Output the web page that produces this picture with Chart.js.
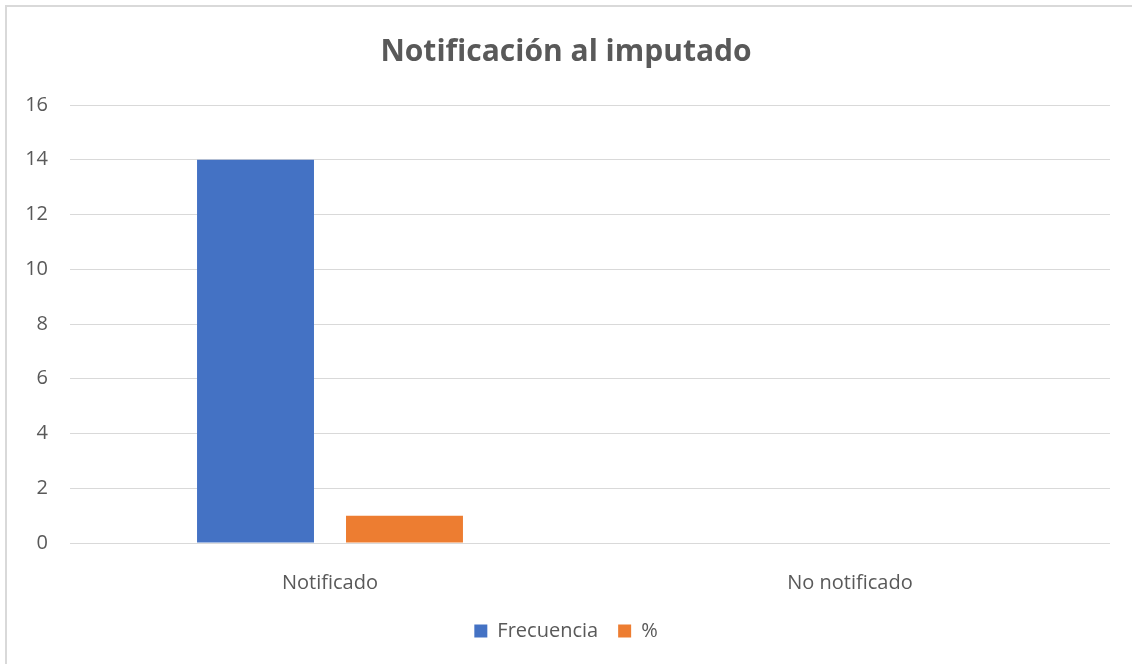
<!DOCTYPE html>
<html>
<head>
<meta charset="utf-8">
<script src="https://cdn.jsdelivr.net/npm/chart.js@4/dist/chart.umd.min.js"></script>
<style>
  html, body { margin: 0; padding: 0; background: #fff; overflow: hidden; }
  #wrap { position: relative; width: 1132px; height: 664px; }
  #frame { position: absolute; left: 5px; top: 5px; width: 1140px; height: 680px; border: 2px solid #d9d9d9; box-sizing: border-box; pointer-events: none; }
  canvas { position: absolute; left: 0; top: 0; }
</style>
</head>
<body>
<div id="wrap">
  <canvas id="c" width="1132" height="664"></canvas>
  <div id="frame"></div>
</div>
<script>
const titleText = "Notificación al imputado";
const categories = ["Notificado", "No notificado"];
const frecuencia = [14, 0];
const porcentaje = [1, 0];
const seriesNames = ["Frecuencia", "%"];

const textColor = "#595959";
const gridColor = "#d9d9d9";
const fontFamily = "'Open Sans', 'Liberation Sans', sans-serif";

new Chart(document.getElementById("c"), {
  type: "bar",
  data: {
    labels: categories,
    datasets: [
      { label: seriesNames[0], data: frecuencia, backgroundColor: "#4472C4", categoryPercentage: 0.573, barPercentage: 0.785 },
      { label: seriesNames[1], data: porcentaje, backgroundColor: "#ED7D31", categoryPercentage: 0.573, barPercentage: 0.785 }
    ]
  },
  options: {
    responsive: false,
    animation: false,
    devicePixelRatio: 1,
    layout: { padding: { left: 22, right: 22, top: 0, bottom: 13 } },
    plugins: {
      title: {
        display: true,
        text: titleText,
        color: textColor,
        font: { family: fontFamily, size: 30, weight: "bold" },
        padding: { top: 34, bottom: 35 }
      },
      legend: {
        display: true,
        position: "bottom",
        labels: {
          color: textColor,
          font: { family: fontFamily, size: 20 },
          boxWidth: 13,
          boxHeight: 13,
          padding: 20
        }
      },
      tooltip: { enabled: false }
    },
    scales: {
      x: {
        grid: { display: false },
        border: { display: false },
        ticks: { color: textColor, font: { family: fontFamily, size: 20 }, padding: 20 },
        afterFit: (s) => { s.height = 58; }
      },
      y: {
        min: 0,
        max: 16,
        ticks: { stepSize: 2, color: textColor, font: { family: fontFamily, size: 20 }, padding: 22 },
        grid: { color: gridColor, lineWidth: 1, drawTicks: false },
        border: { display: false },
        afterFit: (s) => { s.width = 48; }
      }
    }
  }
});
</script>
</body>
</html>
